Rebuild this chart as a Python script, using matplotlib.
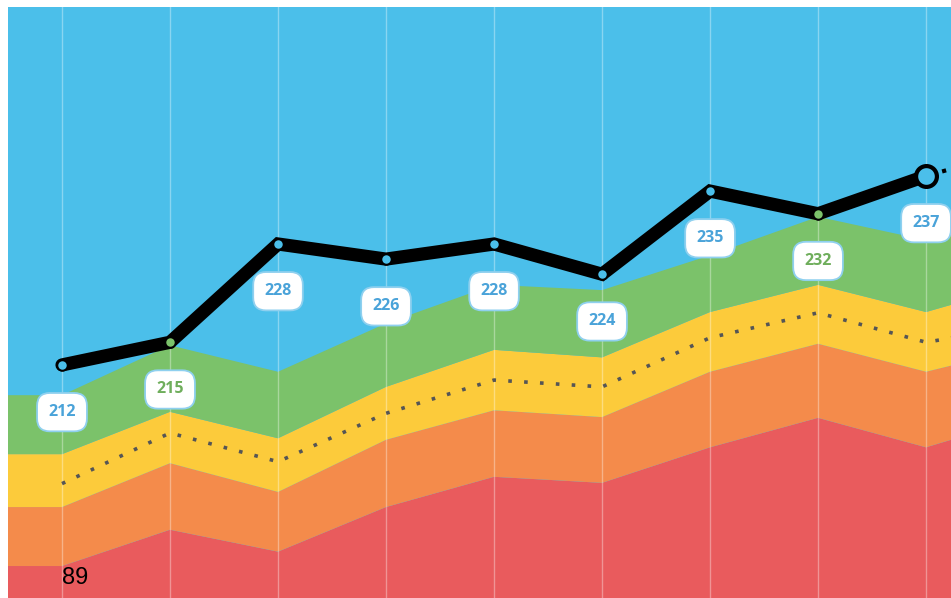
import numpy as np
import matplotlib.pyplot as plt
from matplotlib import transforms

# periods (first one is a lead-in column, same as period 0)
periods = np.arange(-1, 10)

# stacked layers, bottom to top
red = [185.4, 185.4, 190.2, 187.3, 193.2, 197.2, 196.4, 201.1, 205.0, 201.1, 205.4]
orange = [7.8, 7.8, 8.8, 7.9, 8.9, 8.8, 8.7, 10.0, 9.8, 10.0, 9.2]
yellow = [7.0, 7.0, 6.8, 7.1, 7.0, 8.0, 7.9, 7.9, 7.8, 7.9, 8.5]
green = [7.8, 7.8, 8.8, 8.8, 8.4, 8.6, 8.9, 7.5, 9.0, 9.5, 10.2]

# dotted guide through the yellow band
guide_x = np.arange(0, 10)
guide = [196.3, 203.0, 199.2, 205.6, 210.0, 209.1, 215.6, 218.9, 215.0, 217.4]

# totals line
total_x = np.arange(0, 9)
total = [212, 215, 228, 226, 228, 224, 235, 232, 237]
forecast = 241
base_label = '89'

# colours
c_blue = '#4bbfea'
c_green = '#7bc26a'
c_yellow = '#fccb3b'
c_orange = '#f48b4b'
c_red = '#e95b5d'
txt_blue = '#4aa3d9'
txt_green = '#6fae5c'
# which band each total point sits on
on_green = [False, True, False, False, False, False, False, True, False]

fig = plt.figure(figsize=(9.51, 5.98), dpi=100)
ax = fig.add_axes([8 / 951, 0, 943 / 951, 591 / 598])
ax.set_facecolor(c_blue)

ax.stackplot(periods, red, orange, yellow, green,
             colors=[c_red, c_orange, c_yellow, c_green], lw=0)

ax.plot(guide_x, guide, color='#555555', lw=2.6, ls=(0, (1, 3.4)),
        dash_capstyle='butt', zorder=3)

# main line + dotted forecast
ax.plot([total_x[-1], total_x[-1] + 1], [total[-1], forecast], color='black',
        lw=3, ls=(0, (1, 3)), zorder=4)
ax.plot(total_x, total, color='black', lw=9.5, solid_joinstyle='miter',
        solid_capstyle='round', zorder=5)
for i, v in enumerate(total):
    fill = c_green if on_green[i] else c_blue
    last = i == len(total) - 1
    ax.plot(total_x[i], v, 'o', ms=15 if last else 7.5, mfc=fill, mec='black',
            mew=3 if last else 1.4, zorder=6)
    ax.annotate(str(v), (total_x[i], v), xytext=(0, -34), textcoords='offset points',
                ha='center', va='center', fontsize=11.5, family='Open Sans',
                fontweight='bold', color=txt_green if on_green[i] else txt_blue,
                bbox=dict(boxstyle='round,pad=0.7,rounding_size=0.8', fc='white',
                          ec='#8fd0ef', lw=1.3), zorder=7)

trans = transforms.blended_transform_factory(ax.transData, ax.transAxes)
ax.text(0, 0.034, base_label, transform=trans, ha='left', va='center',
        fontsize=17, family='Liberation Sans', color='black', zorder=8)

ax.set_xlim(-0.5, 8.231)
ax.set_ylim(181.17, 259.35)
ax.set_xticks(range(9))
ax.set_yticks([])
ax.set_axisbelow(False)
ax.grid(axis='x', color='white', alpha=0.35, lw=1)
ax.tick_params(length=0, labelbottom=False)
for s in ax.spines.values():
    s.set_visible(False)

fig.savefig('out.png', dpi=100)
